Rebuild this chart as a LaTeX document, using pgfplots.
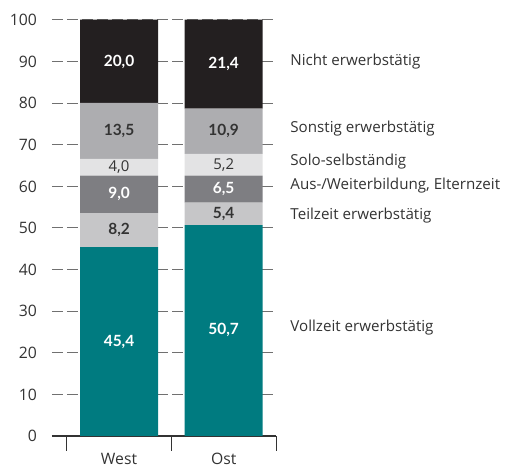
\documentclass[border=0pt]{standalone}
\usepackage{pgfplots}
\usepackage{pgfplotstable}
\pgfplotsset{compat=1.18}
\usepackage{fontspec}
\setmainfont{Open Sans}
\newfontfamily\wertfont{Lato}

\definecolor{cVoll}{HTML}{007B80}
\definecolor{cTeil}{HTML}{C6C6C8}
\definecolor{cWeiter}{HTML}{7E7E82}
\definecolor{cSolo}{HTML}{E3E3E4}
\definecolor{cSonst}{HTML}{ADADB0}
\definecolor{cNicht}{HTML}{231F20}
\definecolor{txt}{HTML}{333333}
\definecolor{gridc}{HTML}{707070}

% Anteile in Prozent, West = 0, Ost = 1
\pgfplotstableread{
x voll teil weiter solo sonst nicht
0 45.4 8.2 9.0 4.0 13.5 20.0
1 50.7 5.4 6.5 5.2 10.9 21.4
}\anteile

\pgfplotsset{base/.style={
  at={(0,0)}, anchor=south west, scale only axis,
  width=224bp, height=416bp,
  xmin=-0.641, xmax=1.5, ymin=0, ymax=100, clip=false}}
\tikzset{
  seitenlabel/.style={anchor=west, inner sep=0pt, text=txt, font=\fontsize{15.2}{17}\selectfont},
  wert/.style={anchor=center, inner sep=0pt, text=#1, font=\wertfont\fontsize{15.5}{15.5}\selectfont\bfseries},
  wertduenn/.style={anchor=center, inner sep=0pt, text=#1, font=\fontsize{15}{15}\selectfont},
}

\begin{document}
\begin{tikzpicture}
\path[use as bounding box] (-52bp,-32bp) rectangle (455bp,436bp);
\begin{axis}[base,
  ybar stacked, bar width=0.746,
  axis lines*=left,
  y axis line style={draw=none},
  x axis line style={color=txt, line width=1.2bp},
  ytick={0,10,...,100},
  ymajorgrids,
  grid style={color=gridc, line width=1bp, dash pattern=on 11bp off 4bp},
  xtick={0,1}, xticklabels={West,Ost},
  minor xtick={-0.5,0.5,1.5},
  tick align=outside, major tick length=0pt, minor tick length=15bp,
  tick style={color=txt, line width=1bp},
  /pgf/number format/assume math mode=true,
  tick label style={font=\fontsize{15.8}{15.8}\selectfont, text=txt},
  yticklabel style={inner sep=0pt, xshift=-15bp},
  xticklabel style={inner sep=0pt, anchor=north, yshift=-17bp},
]
\addplot[fill=cVoll, draw=none] table[x=x, y=voll] {\anteile};
\addplot[fill=cTeil, draw=none] table[x=x, y=teil] {\anteile};
\addplot[fill=cWeiter, draw=none] table[x=x, y=weiter] {\anteile};
\addplot[fill=cSolo, draw=none] table[x=x, y=solo] {\anteile};
\addplot[fill=cSonst, draw=none] table[x=x, y=sonst] {\anteile};
\addplot[fill=cNicht, draw=none] table[x=x, y=nicht] {\anteile};
\end{axis}

% zweite, unsichtbare Achse fuer die Beschriftungen (ueber den Balken)
\begin{axis}[base, hide axis]
\node[wert=white] at (axis cs:0,22.7) {45,4};
\node[wert=white] at (axis cs:1,25.4) {50,7};
\node[wert=txt]   at (axis cs:0,49.5) {8,2};
\node[wert=txt]   at (axis cs:1,53.4) {5,4};
\node[wert=white] at (axis cs:0,58.1) {9,0};
\node[wert=white] at (axis cs:1,59.3) {6,5};
\node[wertduenn=txt] at (axis cs:0,64.6) {4,0};
\node[wertduenn=txt] at (axis cs:1,65.2) {5,2};
\node[wert=txt]   at (axis cs:0,73.4) {13,5};
\node[wert=txt]   at (axis cs:1,73.3) {10,9};
\node[wert=white] at (axis cs:0,90.0) {20,0};
\node[wert=white] at (axis cs:1,89.4) {21,4};

\node[seitenlabel] at (axis cs:1.636,89.9) {Nicht erwerbstätig};
\node[seitenlabel] at (axis cs:1.636,73.8) {Sonstig erwerbstätig};
\node[seitenlabel] at (axis cs:1.636,65.9) {Solo-selbständig};
\node[seitenlabel] at (axis cs:1.636,60.3) {Aus-/Weiterbildung, Elternzeit};
\node[seitenlabel] at (axis cs:1.636,53.1) {Teilzeit erwerbstätig};
\node[seitenlabel] at (axis cs:1.636,26.0) {Vollzeit erwerbstätig};
\end{axis}
\end{tikzpicture}
\end{document}
